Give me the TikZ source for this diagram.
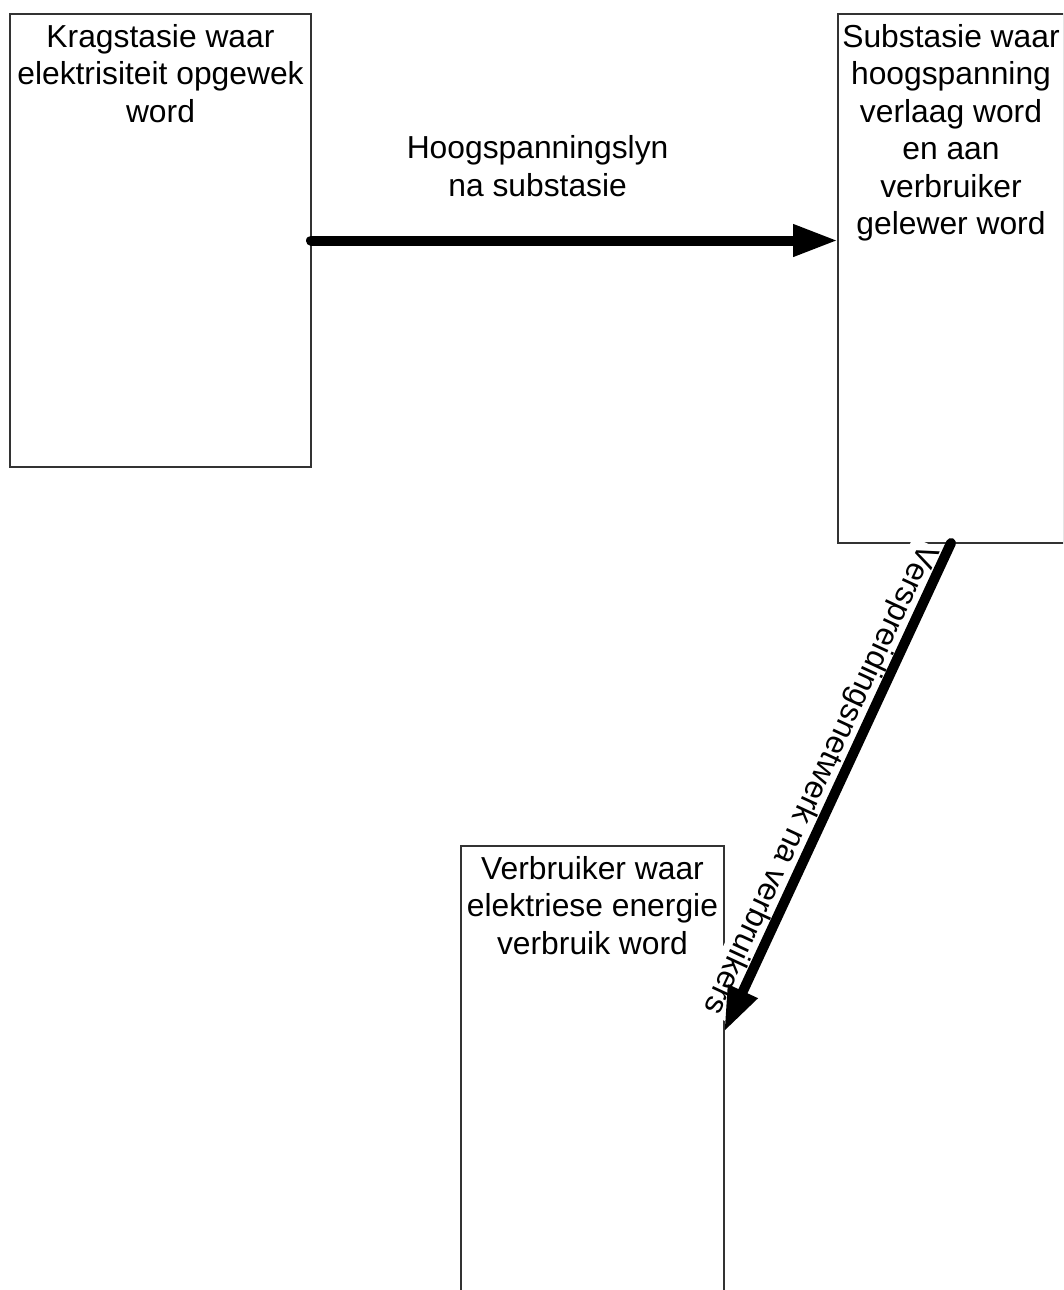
\documentclass[tikz,border=0pt]{standalone}
\usepackage{fontspec}
\setmainfont{Liberation Sans}
\usetikzlibrary{arrows.meta}
\usetikzlibrary{positioning}

\begin{document}
\begin{tikzpicture}[x=1pt, y=-1pt, >={Triangle[length=45pt,width=30pt]}]
      \tikzstyle{station} = [rectangle, draw=black!80, line width=1.3pt, inner sep=0pt, outer sep=0pt]
      \tikzstyle{caption} = [align=center, inner sep=0pt, font=\fontsize{31.8}{37.5}\selectfont]
      \tikzstyle{line} = [draw=black, line width=10pt, line cap=round, ->]
      \useasboundingbox (0,0) rectangle (1063,1290);
      \clip (0,0) rectangle (1063,1290);
      %boxes
      \node[station, anchor=north west, minimum width=301pt, minimum height=453pt] (krag) at (10,14) {};
      \node[station, right=527pt of krag.north east, anchor=north west, minimum width=226pt, minimum height=529pt] (sub) {};
      \node[station, below right=379pt and 451pt of krag.south west, minimum width=263pt, minimum height=480pt] (verb) {};
      %texts
      \node[caption, below=10pt of krag.north] (kragtext) {Kragstasie waar\\elektrisiteit opgewek\\word};
      \node[caption, below=10pt of sub.north] (subtext) {Substasie waar\\hoogspanning\\verlaag word\\en aan\\verbruiker\\gelewer word};
      \node[caption, below=10pt of verb.north] (verbtext) {Verbruiker waar\\elektriese energie\\verbruik word};
      \coordinate (tip) at ([yshift=-186pt]verb.north east);
      %lines
      \draw [line] (krag.east) -- (krag.east -| sub.west)
            node [caption, pos=0.43, above=39pt] {Hoogspanningslyn\\na substasie};
      \path (sub.south) -- (tip)
            node [caption, pos=0.5, sloped, allow upside down, below=3pt, fill=white, inner sep=2pt] {Verspreidingsnetwerk na verbruikers};
      \draw [line] (sub.south) -- (tip);
\end{tikzpicture}
\end{document}
